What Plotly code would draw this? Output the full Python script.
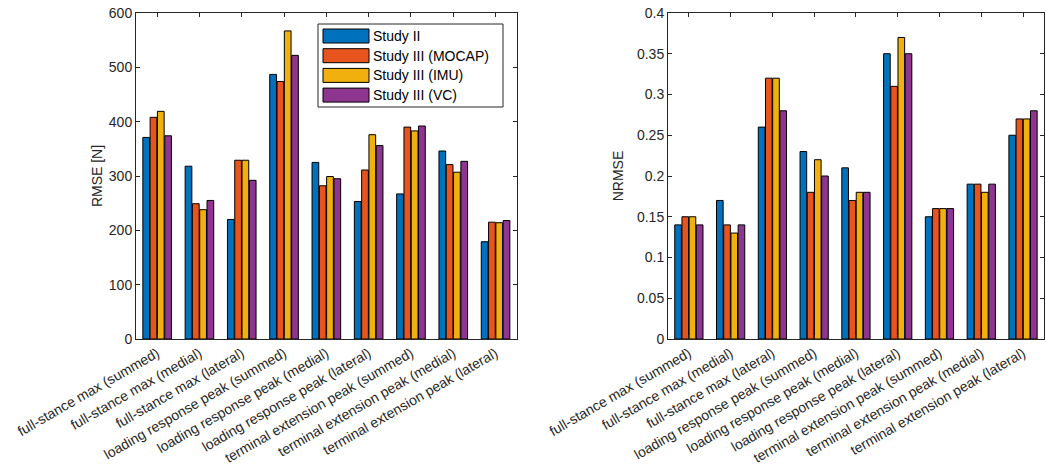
import plotly.graph_objects as go

# Gait-event metrics along the x axis
categories = [
    "full-stance max (summed)",
    "full-stance max (medial)",
    "full-stance max (lateral)",
    "loading response peak (summed)",
    "loading response peak (medial)",
    "loading response peak (lateral)",
    "terminal extension peak (summed)",
    "terminal extension peak (medial)",
    "terminal extension peak (lateral)",
]

series_names = ["Study II", "Study III (MOCAP)", "Study III (IMU)", "Study III (VC)"]

# RMSE [N] per series
rmse_study2 = [371, 318, 220, 487, 325, 253, 267, 346, 179]
rmse_mocap = [408, 249, 329, 474, 282, 311, 390, 321, 215]
rmse_imu = [419, 238, 329, 567, 299, 376, 383, 307, 214]
rmse_vc = [374, 255, 292, 522, 295, 356, 392, 327, 218]

# NRMSE per series
nrmse_study2 = [0.14, 0.17, 0.26, 0.23, 0.21, 0.35, 0.15, 0.19, 0.25]
nrmse_mocap = [0.15, 0.14, 0.32, 0.18, 0.17, 0.31, 0.16, 0.19, 0.27]
nrmse_imu = [0.15, 0.13, 0.32, 0.22, 0.18, 0.37, 0.16, 0.18, 0.27]
nrmse_vc = [0.14, 0.14, 0.28, 0.20, 0.18, 0.35, 0.16, 0.19, 0.28]

rmse_ticks = [0, 100, 200, 300, 400, 500, 600]
nrmse_ticks = [0, 0.05, 0.1, 0.15, 0.2, 0.25, 0.3, 0.35, 0.4]
nrmse_ticktext = ["0", "0.05", "0.1", "0.15", "0.2", "0.25", "0.3", "0.35", "0.4"]

colors = ["#0072BD", "#E8541E", "#F2B00F", "#8E3590"]
axis_color = "#262626"
font_family = "Liberation Sans, Arial, sans-serif"
font_size = 14

rmse_series = [rmse_study2, rmse_mocap, rmse_imu, rmse_vc]
nrmse_series = [nrmse_study2, nrmse_mocap, nrmse_imu, nrmse_vc]

fig = go.Figure()

for name, vals, col in zip(series_names, rmse_series, colors):
    fig.add_trace(go.Bar(
        x=categories, y=vals, name=name, marker_color=col,
        marker_line=dict(color="black", width=1),
        xaxis="x", yaxis="y", showlegend=False,
        offsetgroup=name,
    ))

for name, vals, col in zip(series_names, nrmse_series, colors):
    fig.add_trace(go.Bar(
        x=categories, y=vals, name=name, marker_color=col,
        marker_line=dict(color="black", width=1),
        xaxis="x2", yaxis="y2", showlegend=False,
        offsetgroup=name,
    ))

common_x = dict(
    type="category", showline=True, linecolor=axis_color, linewidth=1,
    mirror="allticks", ticks="inside", ticklen=4, tickcolor=axis_color,
    tickangle=-30,
    tickfont=dict(size=font_size, color=axis_color, family=font_family),
    range=[-0.5, len(categories) - 0.5], showgrid=False, zeroline=False,
    automargin=False,
)
common_y = dict(
    showline=True, linecolor=axis_color, linewidth=1,
    mirror="allticks", ticks="inside", ticklen=4, tickcolor=axis_color,
    tickfont=dict(size=font_size, color=axis_color, family=font_family),
    showgrid=False, zeroline=False, automargin=False,
    title_font=dict(size=font_size, color=axis_color, family=font_family),
)

fig.update_layout(
    width=1046, height=476,
    margin=dict(l=0, r=0, t=0, b=0),
    paper_bgcolor="white", plot_bgcolor="white",
    barmode="group", bargap=0.31, bargroupgap=0.08,
    font=dict(family=font_family, color=axis_color),
    xaxis=dict(domain=[0.130, 0.494], anchor="y", **common_x),
    xaxis2=dict(domain=[0.6386, 0.998], anchor="y2", **common_x),
    yaxis=dict(domain=[0.2878, 0.9727], anchor="x", range=[0, 600],
               tickvals=rmse_ticks, title=dict(text="RMSE [N]", standoff=2),
               **common_y),
    yaxis2=dict(domain=[0.2878, 0.9727], anchor="x2", range=[0, 0.4],
                tickvals=nrmse_ticks, ticktext=nrmse_ticktext,
                title=dict(text="NRMSE", standoff=10), **common_y),
)

# Legend box drawn in figure-pixel terms, converted to paper fractions
W, H = 1046, 476
def px(x):
    return x / W
def py(y):
    return 1 - y / H

box_x0, box_x1, box_y0, box_y1 = 318, 503, 24, 107
fig.add_shape(type="rect", xref="paper", yref="paper",
              x0=px(box_x0), x1=px(box_x1), y0=py(box_y1), y1=py(box_y0),
              line=dict(color=axis_color, width=1), fillcolor="white")
row_h = 19.7
for i, (name, col) in enumerate(zip(series_names, colors)):
    cy = 36 + i * row_h
    fig.add_shape(type="rect", xref="paper", yref="paper",
                  x0=px(323), x1=px(369), y0=py(cy + 7), y1=py(cy - 7),
                  line=dict(color="black", width=1), fillcolor=col)
    fig.add_annotation(xref="paper", yref="paper", x=px(371), y=py(cy),
                       text=name, showarrow=False, xanchor="left",
                       yanchor="middle",
                       font=dict(size=font_size, color="black", family=font_family))

fig.write_html("out.html")
